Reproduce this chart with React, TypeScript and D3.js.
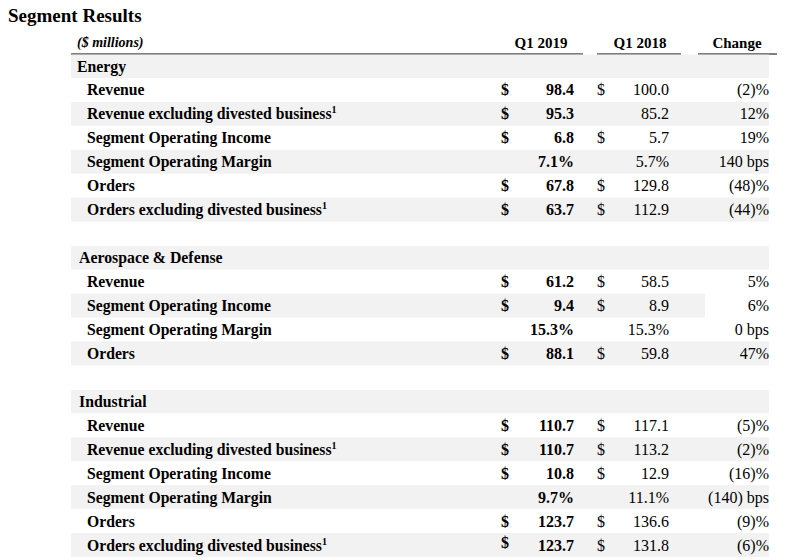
import React from "react";
import * as d3 from "d3";

const segments = ["Energy", "Aerospace & Defense", "Industrial"];

const energyLabels = ["Revenue", "Revenue excluding divested business", "Segment Operating Income", "Segment Operating Margin", "Orders", "Orders excluding divested business"];
const energyQ12019 = [98.4, 95.3, 6.8, 7.1, 67.8, 63.7];
const energyQ12018 = [100.0, 85.2, 5.7, 5.7, 129.8, 112.9];
const energyDollar2018 = [true, false, true, false, true, true];
const energyChange = ["(2)%", "12%", "19%", "140 bps", "(48)%", "(44)%"];

const aeroLabels = ["Revenue", "Segment Operating Income", "Segment Operating Margin", "Orders"];
const aeroQ12019 = [61.2, 9.4, 15.3, 88.1];
const aeroQ12018 = [58.5, 8.9, 15.3, 59.8];
const aeroDollar2018 = [true, true, false, true];
const aeroChange = ["5%", "6%", "0 bps", "47%"];

const industrialLabels = ["Revenue", "Revenue excluding divested business", "Segment Operating Income", "Segment Operating Margin", "Orders", "Orders excluding divested business"];
const industrialQ12019 = [110.7, 110.7, 10.8, 9.7, 123.7, 123.7];
const industrialQ12018 = [117.1, 113.2, 12.9, 11.1, 136.6, 131.8];
const industrialDollar2018 = [true, true, true, false, true, true];
const industrialChange = ["(5)%", "(2)%", "(16)%", "(140) bps", "(9)%", "(6)%"];

const columnHeaders = ["Q1 2019", "Q1 2018", "Change"];

type Row =
  | { kind: "header"; label: string; gi: number }
  | { kind: "blank" }
  | { kind: "data"; label: string; v19: number; v18: number; d18: boolean; change: string; gray: boolean; margin: boolean; note: boolean; shortGray: boolean; raised: boolean };

function buildRows(): Row[] {
  const groups = [
    [energyLabels, energyQ12019, energyQ12018, energyDollar2018, energyChange],
    [aeroLabels, aeroQ12019, aeroQ12018, aeroDollar2018, aeroChange],
    [industrialLabels, industrialQ12019, industrialQ12018, industrialDollar2018, industrialChange],
  ] as [string[], number[], number[], boolean[], string[]][];
  const rows: Row[] = [];
  groups.forEach(([labels, a, b, d, c], gi) => {
    if (gi > 0) rows.push({ kind: "blank" });
    rows.push({ kind: "header", label: segments[gi], gi });
    labels.forEach((l, i) => {
      rows.push({
        kind: "data",
        label: l,
        v19: a[i],
        v18: b[i],
        d18: d[i],
        change: c[i],
        gray: i % 2 === 1,
        margin: l.includes("Margin"),
        note: l.includes("divested"),
        shortGray: gi === 1 && i === 1,
        raised: gi === 2 && i === labels.length - 1,
      });
    });
  });
  return rows;
}

const FONT = "'Liberation Serif', 'Times New Roman', serif";

export default function App() {
  const rows = buildRows();
  const W = 793, H = 560;
  const rowH = 23.95;
  const y = d3.scaleLinear().domain([0, rows.length]).range([54, 54 + rows.length * rowH]);
  const fmt = d3.format(".1f");
  const tableL = 71, tableR = 769;
  const xLabel = 87, xD19 = 505, xV19 = 574, xD18 = 601, xV18 = 669, xChg = 769;
  const headerCenters = [541, 640, 737];
  const underlines = [[71, 583], [597, 681], [698, 777]];

  return (
    <svg width={W} height={H} style={{ position: "absolute", left: 0, top: 0, background: "#fff" }} fontFamily={FONT}>
      <rect x={0} y={0} width={W} height={H} fill="#fff" />
      <text x={8} y={22} fontSize={19} fontWeight="bold" fill="#000">Segment Results</text>
      <text x={77} y={47} fontSize={14} fontWeight="bold" fontStyle="italic" fill="#000">($ millions)</text>
      {columnHeaders.map((h, i) => (
        <text key={h} x={headerCenters[i]} y={48} fontSize={15} fontWeight="bold" textAnchor="middle" fill="#000">{h}</text>
      ))}
      {underlines.map(([a, b], i) => (
        <line key={i} x1={a} x2={b} y1={54} y2={54} stroke="#000" strokeWidth={1.2} />
      ))}
      {rows.map((r, i) => {
        const top = y(i);
        const base = top + 17.5;
        if (r.kind === "blank") return null;
        if (r.kind === "header") {
          return (
            <g key={i}>
              <rect x={tableL} y={top + 0.6} width={tableR - tableL} height={rowH - 0.6} fill="#f2f2f2" />
              <text x={r.gi === 0 ? 77 : 79} y={base} fontSize={15.8} fontWeight="bold" fill="#000">{r.label}</text>
            </g>
          );
        }
        return (
          <g key={i}>
            {r.gray && (
              <rect x={tableL} y={top} width={(r.shortGray ? 705 : tableR) - tableL} height={rowH} fill="#f2f2f2" />
            )}
            <text x={xLabel} y={base} fontSize={15.7} fontWeight="bold" fill="#000">
              {r.label}
              {r.note && <tspan fontSize={10} dy={-6}>1</tspan>}
            </text>
            {!r.margin && (
              <text x={xD19} y={base - (r.raised ? 3 : 0)} fontSize={16} fontWeight="bold" textAnchor="middle" fill="#000">$</text>
            )}
            <text x={xV19} y={base} fontSize={16} fontWeight="bold" textAnchor="end" fill="#000">
              {fmt(r.v19) + (r.margin ? "%" : "")}
            </text>
            {r.d18 && (
              <text x={xD18} y={base} fontSize={16} textAnchor="middle" fill="#000">$</text>
            )}
            <text x={xV18} y={base} fontSize={16} textAnchor="end" fill="#000">
              {fmt(r.v18) + (r.margin ? "%" : "")}
            </text>
            <text x={xChg} y={base} fontSize={16} textAnchor="end" fill="#000">{r.change}</text>
          </g>
        );
      })}
    </svg>
  );
}
